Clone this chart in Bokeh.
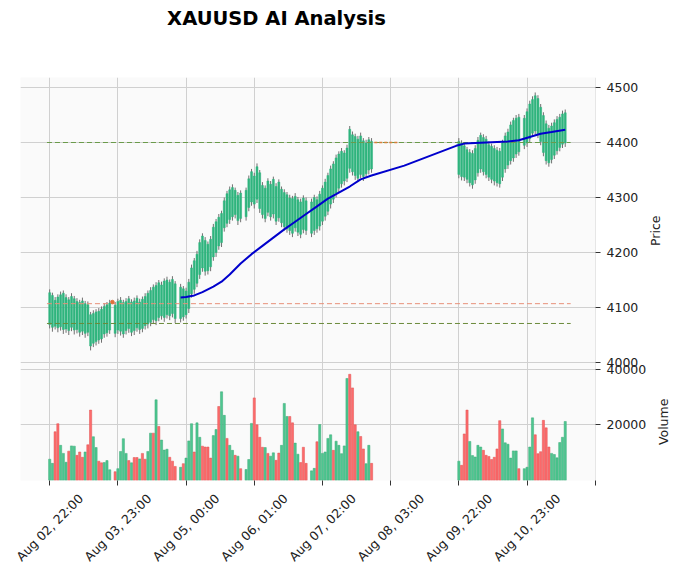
import math
from bokeh.plotting import figure
from bokeh.models import Range1d, FixedTicker, ColumnDataSource, CustomJSTickFormatter
from bokeh.layouts import column, row
from bokeh.core.properties import value
from bokeh.embed import file_html
from bokeh.resources import INLINE

# ---------------- data ----------------
title_text = "XAUUSD AI Analysis"
price_label = "Price"
volume_label = "Volume"
tick_pos = [0, 25, 50, 75, 100, 125, 150, 175, 200]
tick_labels = ["Aug 02, 22:00", "Aug 03, 23:00", "Aug 05, 00:00", "Aug 06, 01:00",
               "Aug 07, 02:00", "Aug 08, 03:00", "Aug 09, 22:00", "Aug 10, 23:00", ""]

# row indices of the bars (index based x axis, gaps are missing rows)
rows_g1 = list(range(0, 23))
rows_g2 = list(range(24, 47))
rows_g3 = list(range(48, 71))
rows_g4 = list(range(72, 95))
rows_g5 = list(range(96, 119))
rows_g6 = list(range(150, 173))
rows_g7 = list(range(174, 190))

highs = [4133,4127,4119,4124,4129,4131,4124,4119,4126,4121,4117,4114,4118,4112,4111,4092,4095,4097,4099,4102,4108,4110,4114,
         4110,4116,4119,4114,4117,4121,4115,4118,4122,4116,4120,4126,4131,4137,4142,4146,4150,4147,4153,4156,4151,4157,4148,
         4143,4139,4136,4152,4178,4190,4203,4224,4235,4228,4220,4230,4252,4261,4270,4276,4300,4312,4320,4324,4318,4310,4313,
         4318,4340,4352,4345,4362,4350,4328,4322,4335,4330,4338,4326,4333,4320,4315,4310,4305,4303,4308,4301,4298,4304,4300,
         4298,4305,4302,4312,4322,4334,4345,4358,4366,4378,4384,4390,4386,4396,4430,4420,4416,4412,4418,4408,4405,4410,4408,
         4408,4404,4400,4392,4388,4386,4395,4410,4418,4415,4412,4402,4398,4395,4392,4390,4405,4418,4425,4438,4445,4450,4452,
         4450,4462,4476,4484,4491,4486,4470,4455,4440,4432,4436,4442,4448,4452,4458,4460]
lows = [4062,4056,4060,4055,4058,4052,4054,4050,4057,4051,4053,4047,4050,4045,4048,4022,4028,4031,4034,4036,4045,4047,4052,
        4046,4052,4049,4045,4051,4054,4048,4050,4056,4052,4055,4060,4062,4066,4070,4068,4075,4078,4074,4080,4077,4082,4072,
        4073,4076,4080,4090,4118,4125,4137,4152,4165,4158,4160,4166,4185,4192,4205,4210,4238,4246,4252,4258,4262,4250,4255,
        4258,4275,4285,4280,4290,4272,4262,4255,4266,4258,4262,4250,4256,4246,4240,4236,4232,4228,4238,4230,4226,4235,4232,
        4228,4232,4236,4240,4250,4258,4268,4280,4290,4300,4310,4318,4322,4328,4345,4340,4332,4328,4335,4330,4336,4342,4345,
        4335,4331,4330,4326,4320,4316,4325,4338,4345,4340,4335,4330,4326,4322,4320,4318,4330,4345,4352,4360,4365,4372,4376,
        4388,4392,4400,4410,4414,4408,4395,4375,4360,4356,4362,4370,4378,4384,4390,4392]
opens = [4069,4064,4066,4063,4065,4060,4061,4058,4064,4059,4060,4055,4057,4053,4055,4030,4035,4038,4041,4043,4052,4054,4059,
         4053,4059,4057,4052,4058,4062,4055,4058,4063,4060,4062,4067,4070,4073,4078,4076,4082,4085,4082,4087,4085,4089,4080,
         4080,4083,4087,4098,4125,4133,4144,4160,4172,4166,4167,4174,4192,4200,4212,4218,4245,4253,4260,4265,4269,4258,4262,
         4265,4282,4292,4288,4297,4280,4269,4262,4273,4265,4270,4257,4263,4254,4247,4243,4240,4235,4245,4237,4233,4242,4240,
         4235,4240,4243,4248,4257,4266,4275,4288,4297,4308,4317,4325,4330,4335,4353,4347,4340,4335,4342,4338,4343,4350,4352,
         4342,4338,4337,4333,4327,4323,4332,4345,4352,4347,4342,4337,4333,4330,4327,4325,4337,4352,4359,4367,4372,4379,4383,
         4395,4399,4407,4417,4421,4415,4402,4382,4367,4363,4369,4377,4385,4391,4397,4399]
closes = [4127,4122,4113,4119,4123,4126,4118,4114,4120,4116,4111,4109,4112,4107,4105,4087,4089,4092,4093,4097,4102,4105,4108,
          4104,4111,4113,4109,4111,4116,4110,4112,4117,4110,4115,4120,4126,4131,4137,4140,4145,4141,4148,4150,4146,4151,4143,
          4137,4134,4130,4146,4172,4185,4197,4218,4230,4222,4215,4224,4246,4256,4264,4271,4294,4307,4314,4318,4313,4304,4308,
          4313,4334,4347,4339,4356,4345,4322,4317,4330,4324,4333,4320,4328,4315,4309,4305,4299,4298,4302,4296,4292,4299,4294,
          4292,4300,4296,4306,4317,4328,4340,4352,4361,4372,4379,4384,4381,4390,4424,4414,4411,4406,4412,4403,4399,4405,4402,
          4402,4399,4394,4387,4382,4380,4389,4404,4413,4409,4406,4396,4393,4389,4386,4384,4399,4412,4419,4432,4440,4444,4446,
          4444,4456,4470,4478,4485,4480,4464,4449,4434,4426,4430,4436,4442,4446,4452,4454]
volumes = [7600,6100,17500,20400,12600,9700,6500,10500,12400,12300,9000,10200,8300,10200,12800,25300,15700,11800,6900,6300,6400,7100,3800,
           3100,4200,10400,15000,9700,7100,6300,8200,8200,7700,9700,7600,10400,17000,17000,29000,19400,14500,10900,11200,8300,6900,5000,
           4700,6000,8000,14200,20400,10200,20700,15500,12300,12000,12000,8000,16100,18300,26600,31900,23400,15100,12600,10800,9000,8700,4200,
           3900,7500,20500,29700,20000,15500,11900,11800,9700,8700,9900,7200,9800,12600,27700,23000,23000,20700,13400,9400,6400,11900,6100,
           3400,4300,13900,20100,9700,10200,15100,16400,10800,14100,12600,9600,12400,36700,38200,33300,20000,17500,15800,11300,6000,12600,6100,
           6900,5400,16700,25300,14000,8900,8400,12600,12000,10800,9000,8600,7500,8300,11300,21500,18500,13500,13000,8000,10600,10600,4200,
           4200,4700,12000,22500,16400,9600,10300,21600,18900,12000,9700,9300,8100,13600,15500,21200]
vol_dir = list("ggrrgggrggrrrgrrggrrggg"
               "rggggrgrrgrrggrgrgggrrr"
               "grgggrggrrrrggrggrggrgr"
               "gggrrrrgrggrrgggrrggrrr"
               "ggrggggg" "rggggg" "rrrgrrggr"
               "grrrgggggrrrrrrrggggggr"
               "ggggrrrrrrgggggg")

# analysis line (row index, price)
line_rows = [48, 50, 53, 56, 60, 63, 66, 70, 74, 78, 82, 86, 90, 94, 98, 102, 106, 110, 114, 118,
             130, 149, 152, 160, 168, 172, 176, 180, 184, 189]
line_vals = [4118, 4119, 4122, 4128, 4138, 4147, 4160, 4180, 4197, 4212, 4227, 4242, 4256, 4270, 4284,
             4298, 4309, 4320, 4333, 4340, 4358, 4394, 4398, 4400, 4402, 4404, 4410, 4416, 4419, 4423]

# horizontal levels
level_vals = [4400, 4107, 4071]
level_cols = ["#6a9a4a", "#e8907a", "#6a8a3a"]

# small orange signal marks
sig_dot_x = [23]
sig_dot_y = [4110]
sig_seg_x = [119, 127.5]
sig_seg_y = [4400, 4400]

price_ticks = [4000, 4100, 4200, 4300, 4400, 4500]
volume_ticks = [20000, 40000]

# ---------------- style / layout ----------------
UP_BODY = "#2fb57e"
WICK = "#707070"
VOL_UP = "#4dc790"
VOL_DN = "#fd6b6c"
VOL_UP_E = "#3aa877"
VOL_DN_E = "#e05050"
BG = "#fafafa"
GRID = "#d0d0d0"
FONT = "DejaVu Sans"
TXT = "#222222"

TOTAL_W = 671
LEFT, FRAME_W, RIGHT = 20, 575, 52
TITLE_H = 60
TOP_B, FRAME_H, BOT_B = 17, 403, 6
MAIN_H = TOP_B + FRAME_H + BOT_B
DATES_H = 80

# price: 0.55 px per unit, volume: 55.5 px per 20000 (both share one frame)
P_TOP, P_BOT = 4518.2, 3785.5
V_BOT = -72.0
V_TOP = V_BOT + FRAME_H * 20000 / 55.5

rows = rows_g1 + rows_g2 + rows_g3 + rows_g4 + rows_g5 + rows_g6 + rows_g7
src = ColumnDataSource(dict(
    x=rows, h=highs, l=lows, o=opens, c=closes, v=volumes,
    vc=[VOL_UP if d == "g" else VOL_DN for d in vol_dir],
    ve=[VOL_UP_E if d == "g" else VOL_DN_E for d in vol_dir],
))

xr = Range1d(-10.7, 200.1)


def vol_to_price(v):
    return P_BOT + (v - V_BOT) / (V_TOP - V_BOT) * (P_TOP - P_BOT)


axis_ticks = price_ticks + [vol_to_price(v) for v in volume_ticks]

pm = figure(x_range=xr, y_range=Range1d(P_BOT, P_TOP), frame_width=FRAME_W, frame_height=FRAME_H,
            min_border_left=LEFT, min_border_right=RIGHT, min_border_top=TOP_B, min_border_bottom=BOT_B,
            y_axis_location="right", output_backend="svg", toolbar_location=None)
pm.extra_y_ranges = {"vol": Range1d(V_BOT, V_TOP)}
pm.background_fill_color = BG
pm.border_fill_color = "white"
pm.outline_line_color = None

pm.xaxis.ticker = FixedTicker(ticks=tick_pos)
pm.xaxis.axis_line_color = None
pm.xaxis.major_tick_out = 5
pm.xaxis.major_tick_in = 0
pm.xaxis.minor_tick_line_color = None
pm.xaxis.major_tick_line_color = "#333333"
pm.xaxis.major_label_standoff = 0
pm.xaxis.major_label_text_font_size = "0px"
pm.xaxis.formatter = CustomJSTickFormatter(code="return ''")

pm.yaxis.ticker = FixedTicker(ticks=axis_ticks)
pm.yaxis.formatter = CustomJSTickFormatter(
    args=dict(pb=P_BOT, pt=P_TOP, vb=V_BOT, vt=V_TOP),
    code="""
    if (tick < 3995) {
        const v = vb + (tick - pb) / (pt - pb) * (vt - vb);
        return String(Math.round(v / 1000) * 1000);
    }
    return String(Math.round(tick));
    """)
pm.yaxis.axis_line_color = None
pm.yaxis.major_tick_out = 5
pm.yaxis.major_tick_in = 0
pm.yaxis.minor_tick_line_color = None
pm.yaxis.major_tick_line_color = "#333333"
pm.yaxis.major_label_text_font = FONT
pm.yaxis.major_label_text_font_size = "12.5px"
pm.yaxis.major_label_text_color = TXT
pm.yaxis.major_label_standoff = 6

pm.xgrid.grid_line_color = GRID
pm.ygrid.grid_line_color = GRID
pm.xgrid.grid_line_width = 1
pm.ygrid.grid_line_width = 1

# candles
pm.segment(x0="x", y0="l", x1="x", y1="h", source=src, line_color=WICK, line_width=1)
pm.vbar(x="x", bottom="o", top="c", width=0.72, source=src, fill_color=UP_BODY, line_color=UP_BODY, line_width=0.5)

# levels
x_lo = rows[0] - 1
x_hi = rows[-1] + 2
for lv, lc in zip(level_vals, level_cols):
    pm.line([x_lo, x_hi], [lv, lv], line_color=lc, line_width=1, line_dash="5 3")

# orange signal marks
pm.line(sig_seg_x, sig_seg_y, line_color="#d9803a", line_width=1.5, line_dash="3 2")
pm.scatter(sig_dot_x, sig_dot_y, size=3.5, marker="circle", fill_color="#e0703a", line_color="#e0703a")

# analysis line
pm.line(line_rows, line_vals, line_color="#0000cc", line_width=2)

# volume
pm.vbar(x="x", bottom=0, top="v", width=0.8, source=src, fill_color="vc", line_color="ve",
        line_width=0.5, y_range_name="vol")


def strip(w, h, xrange, yrange):
    s = figure(width=w, height=h, x_range=xrange, y_range=yrange, min_border=0,
               x_axis_location=None, y_axis_location=None, output_backend="svg", toolbar_location=None)
    s.outline_line_color = None
    s.background_fill_color = "white"
    s.border_fill_color = "white"
    s.grid.visible = False
    return s


# title strip
pt = strip(TOTAL_W, TITLE_H, Range1d(0, TOTAL_W), Range1d(0, TITLE_H))
pt.text(x=[276], y=[TITLE_H - 18], text=[title_text], text_align="center", text_baseline="middle",
        text_font=value(FONT), text_font_size="19.5px", text_font_style="bold", text_color="#000000")

# axis-label strip (right of the main chart)
MAIN_W = LEFT + FRAME_W + RIGHT
LAB_W = TOTAL_W - MAIN_W
pl = strip(LAB_W, MAIN_H, Range1d(0, LAB_W), Range1d(0, MAIN_H))
pl.text(x=[653.5 - MAIN_W - 1, 662 - MAIN_W - 1],
        y=[MAIN_H - (222 - TITLE_H), MAIN_H - (424 - TITLE_H)],
        text=[price_label, volume_label], angle=math.pi / 2,
        text_align="center", text_baseline="middle", text_font=value(FONT),
        text_font_size="12.5px", text_color=TXT)

# date labels strip (same x scale as main frame)
span = xr.end - xr.start
per_px = span / FRAME_W
dr = Range1d(xr.start - LEFT * per_px, xr.end + (TOTAL_W - LEFT - FRAME_W) * per_px)
pd_ = strip(TOTAL_W, DATES_H, dr, Range1d(0, DATES_H))
lab_x = [t for t, l in zip(tick_pos, tick_labels) if l]
lab_t = [l for l in tick_labels if l]
pd_.text(x=lab_x, y=[DATES_H - (527 - (TITLE_H + MAIN_H))] * len(lab_x), text=lab_t, angle=math.pi / 4,
         text_align="center", text_baseline="middle", text_font=value(FONT),
         text_font_size="12.5px", text_color=TXT)

layout = column(pt, row(pm, pl, spacing=0), pd_, spacing=0)
open("out.html", "w").write(file_html(layout, INLINE))
